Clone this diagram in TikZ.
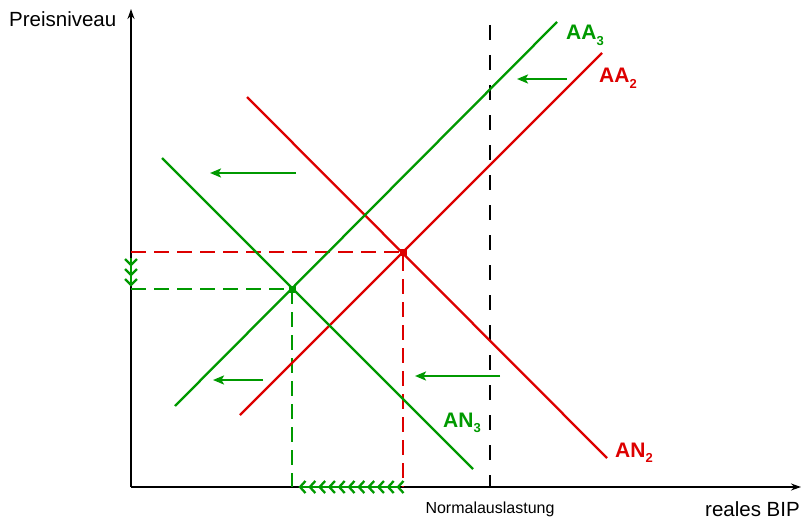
\documentclass[tikz,border=0pt]{standalone}
\usepackage{fontspec}
\setmainfont{Liberation Sans}
\usepackage{tikz}
\usetikzlibrary{arrows.meta,positioning,calc}
\definecolor{kurvegruen}{RGB}{0,153,0}
\definecolor{kurverot}{RGB}{221,0,0}
\newcommand{\tiefzahl}[1]{\raisebox{-5.5pt}{\fontsize{13}{13}\selectfont #1}}

\begin{document}
\begin{tikzpicture}[
  x=1pt,y=-1pt,
  achse/.style={line width=1.6pt,-{Stealth[length=10pt,width=7pt]}},
  kurve/.style={line width=2.3pt},
  hilfslinie/.style={line width=2.2pt,dash pattern=on 15pt off 8pt},
  verschiebung/.style={line width=2.3pt,kurvegruen,
    -{Stealth[length=11pt,width=9pt,inset=2.5pt]}},
  schritt/.style={line width=2.3pt,kurvegruen},
  punkt/.style={rectangle,minimum size=7pt,inner sep=0pt},
  kurvenname/.style={font=\fontsize{21}{24}\selectfont\bfseries,
    anchor=base west,inner sep=0pt},
  achsenname/.style={font=\fontsize{20.5}{24}\selectfont,inner sep=0pt},
]
  \useasboundingbox (0,0) rectangle (801,519);

  % Achsen
  \coordinate (O) at (131,487);
  \coordinate (ytop) at (131,9);
  \coordinate (xend) at (801,487);
  \draw[achse] (O) -- (ytop);
  \draw[achse] (O) -- (xend);
  \node[achsenname,anchor=base west] (pniveau) at (9,27) {Preisniveau};
  \node[achsenname,anchor=base east] (bip) at (800,516) {reales BIP};

  % Normalauslastung
  \coordinate (nobe) at (490,25);
  \coordinate (nunt) at (490,487);
  \draw[line width=1.6pt,dash pattern=on 15pt off 15pt] (nobe) -- (nunt);
  \node[font=\fontsize{16}{18}\selectfont,anchor=base] (nlast) at (490,513)
    {Normalauslastung};

  % Gleichgewichte
  \node[punkt,fill=kurverot] (e2) at (403,252) {};
  \node[punkt,fill=kurvegruen] (e3) at (292,289) {};
  \draw[hilfslinie,kurverot] (O |- e2) -- (e2.center) -- (e2 |- O);
  \draw[hilfslinie,kurvegruen] (O |- e3) -- (e3.center) -- (e3 |- O);

  % Kurven
  \coordinate (an2a) at (247,97);  \coordinate (an2b) at (607,458);
  \coordinate (aa2a) at (240,415); \coordinate (aa2b) at (602,53);
  \coordinate (an3a) at (162,158); \coordinate (an3b) at (473,469);
  \coordinate (aa3a) at (175,406); \coordinate (aa3b) at (557,22);
  \draw[kurve,kurverot] (an2a) -- (an2b);
  \draw[kurve,kurverot] (aa2a) -- (aa2b);
  \draw[kurve,kurvegruen] (an3a) -- (an3b);
  \draw[kurve,kurvegruen] (aa3a) -- (aa3b);
  \node[kurvenname,kurvegruen] (laa3) at (566,40) {AA\tiefzahl{3}};
  \node[kurvenname,kurverot] (laa2) at (599,83) {AA\tiefzahl{2}};
  \node[kurvenname,kurvegruen] (lan3) at (443,427) {AN\tiefzahl{3}};
  \node[kurvenname,kurverot] (lan2) at (615,457) {AN\tiefzahl{2}};

  % Verschiebungen
  \coordinate (v1a) at (296,173); \coordinate (v1b) at (210,173);
  \coordinate (v2a) at (263,380); \coordinate (v2b) at (213,380);
  \coordinate (v3a) at (500,376); \coordinate (v3b) at (415,376);
  \coordinate (v4a) at (567,79);  \coordinate (v4b) at (517,79);
  \draw[verschiebung] (v1a) -- (v1b);
  \draw[verschiebung] (v2a) -- (v2b);
  \draw[verschiebung] (v3a) -- (v3b);
  \draw[verschiebung] (v4a) -- (v4b);

  % Anpassung auf den Achsen
  \draw[schritt] (300,487) -- (398,487);
  \foreach \i in {0,...,10}
    \draw[schritt] ({305.5+\i*9.8},481) -- ({300+\i*9.8},487)
      -- ({305.5+\i*9.8},493);
  \draw[schritt] (131,258) -- (131,285);
  \foreach \j in {0,1,2}
    \draw[schritt] (125,{259+\j*10}) -- (131,{265+\j*10})
      -- (137,{259+\j*10});
\end{tikzpicture}
\end{document}
